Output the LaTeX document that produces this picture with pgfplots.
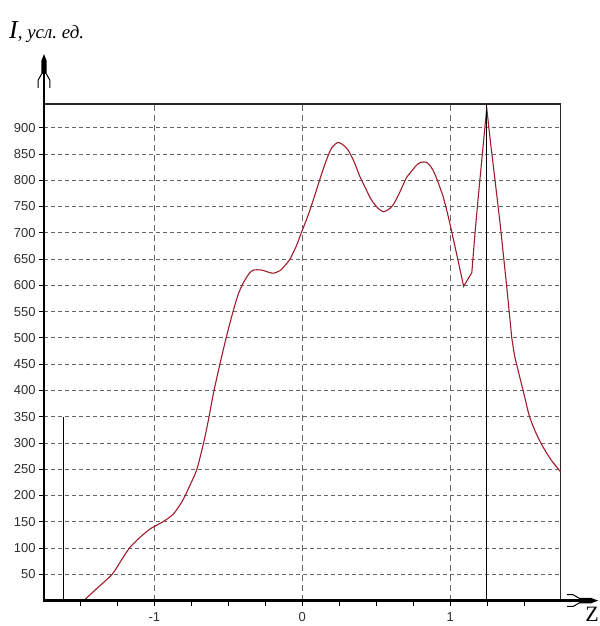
\documentclass[border=0pt]{standalone}
\usepackage{fontspec}
\setmainfont{Liberation Sans}
\newfontfamily\serif{Liberation Serif}
\usepackage{pgfplots}
\usepackage{pgfplotstable}
\pgfplotsset{compat=1.18}
\usetikzlibrary{arrows.meta}
\definecolor{curve}{HTML}{A01C2C}
\definecolor{gridc}{HTML}{666666}
\definecolor{lab}{HTML}{2E2E2E}
\pgfplotstableread{
z I
-1.476 0
-1.40 20
-1.285 50
-1.22 78
-1.162 102
-1.094 121
-1.03 136
-0.993 142
-0.93 152
-0.870 165
-0.82 185
-0.791 200
-0.75 225
-0.712 250
-0.667 300
-0.634 344
-0.60 395
-0.555 452
-0.51 505
-0.465 553
-0.43 585
-0.398 605
-0.36 622
-0.330 629
-0.274 629
-0.23 625
-0.196 623
-0.15 628
-0.11 640
-0.083 650
-0.04 675
-0.004 702
0.035 730
0.074 762
0.12 803
0.165 840
0.20 862
0.243 872
0.28 866
0.310 857
0.35 835
0.389 807
0.43 783
0.468 762
0.51 747
0.546 740
0.58 744
0.614 753
0.66 778
0.70 803
0.726 813
0.77 828
0.80 834
0.839 834
0.87 825
0.895 812
0.925 790
0.951 769
0.98 738
1.007 705
1.05 650
}\partA
\pgfplotstableread{
z I
1.05 650
1.090 598
1.115 610
1.145 624
1.167 700
1.189 769
1.218 855
1.246 937
1.268 880
1.291 826
1.336 718
1.38 600
1.415 500
}\partB
\pgfplotstableread{
z I
1.415 500
1.435 465
1.457 439
1.50 390
1.535 350
1.58 318
1.625 293
1.68 268
1.745 245
}\partC
\begin{document}
\begin{tikzpicture}[x=1bp,y=1bp]
\begin{axis}[
  at={(44bp,25.4bp)}, anchor=south west,
  scale only axis, width=516.6bp, height=496.6bp,
  xmin=-1.745, xmax=1.745, ymin=0, ymax=945,
  axis line style={line width=1.1bp, black!85},
  xtick={-1,0,1},
  minor xtick={-1.5,-1.25,-0.75,-0.5,-0.25,0.25,0.5,0.75,1.25,1.5},
  ytick={50,100,...,900},
  xtick pos=left, ytick pos=left,
  tick align=outside, major tick length=5bp, minor tick length=5bp,
  every tick/.style={black, line width=0.8bp},
  minor tick style={black, line width=0.8bp},
  xmajorgrids, ymajorgrids,
  x grid style={gridc, dash pattern=on 6bp off 4bp, line width=0.75bp},
  y grid style={gridc, dash pattern=on 4bp off 3bp, line width=0.75bp},
  /pgf/number format/assume math mode=true,
  ticklabel style={font=\fontsize{13}{15}\selectfont, text=lab},
  xticklabel style={yshift=-3bp},
  clip=false,
]
\addplot[curve, line width=1.1bp, smooth, tension=0.45] table[x=z, y=I] {\partA};
\addplot[curve, line width=1.1bp] table[x=z, y=I] {\partB};
\addplot[curve, line width=1.1bp, smooth, tension=0.45] table[x=z, y=I] {\partC};
\addplot[black, line width=0.8bp] coordinates {(-1.617,0) (-1.617,350)};
\addplot[black, line width=0.8bp] coordinates {(1.246,0) (1.246,945)};
\end{axis}
% thick axes with arrow heads
\draw[line width=2.2bp] (44,24.3) -- (44,566);
\draw[line width=2.2bp] (43,25.4) -- (592,25.4);
\fill (44,572) -- (41.3,565) -- (41.3,552) -- (46.7,552) -- (46.7,565) -- cycle;
\draw[line width=1bp] (41.6,552) -- (38.2,546) -- (38.2,538);
\draw[line width=1bp] (46.4,552) -- (49.8,546) -- (49.8,538);
\fill (598,25.4) -- (591,22.7) -- (579,22.7) -- (579,28.1) -- (591,28.1) -- cycle;
\draw[line width=1bp] (579,22.9) -- (573,19.5) -- (567,19.5);
\draw[line width=1bp] (579,27.9) -- (573,31.3) -- (567,31.3);
% labels
\node[anchor=base west, inner sep=0pt] at (9,587)
  {\serif\itshape{\fontsize{26}{28}\selectfont I}{\fontsize{19}{21}\selectfont , усл.\ ед.}};
\node[anchor=base east, inner sep=0pt] at (599,4.5)
  {\serif\fontsize{22}{24}\selectfont Z};
\pgfresetboundingbox
\useasboundingbox (0,0) rectangle (600,626);
\end{tikzpicture}
\end{document}
